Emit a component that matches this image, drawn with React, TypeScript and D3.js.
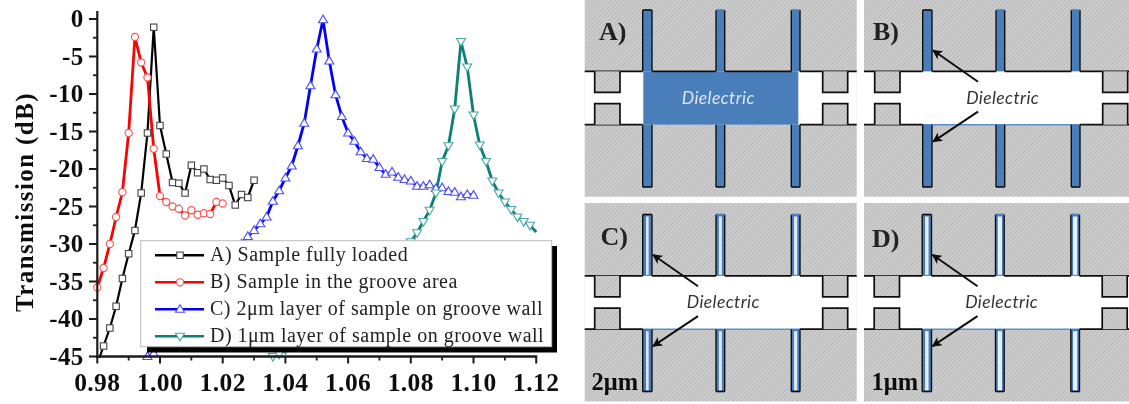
import React from "react";
import * as d3 from "d3";

const W = 1129, H = 404;
const xTicks = [0.98, 1.0, 1.02, 1.04, 1.06, 1.08, 1.1, 1.12];
const xMinor = [0.99, 1.01, 1.03, 1.05, 1.07, 1.09, 1.11];
const yTicks = [0, -5, -10, -15, -20, -25, -30, -35, -40, -45];
const yMinor = [-2.5, -7.5, -12.5, -17.5, -22.5, -27.5, -32.5, -37.5, -42.5];

const step = 0.002;
const aStart = 0.98;
const aValues = [-46, -43.6, -41.2, -38.3, -34.6, -31.3, -28.2, -23.2, -15.2, -1.1, -14.2, -18, -21.8, -21.9, -23.2, -19.5, -20.5, -20, -21.4, -21.5, -21.2, -22.2, -24.8, -23.4, -23.8, -21.5];
const bStart = 0.98;
const bValues = [-35.8, -33.2, -30, -26.4, -23.1, -15.2, -2.4, -5.8, -7.8, -17.3, -23.6, -24.4, -25, -25.3, -26.2, -25.5, -26.1, -25.9, -26, -24.4, -24.6];
const cStart = 0.996;
const cValues = [-45, -44.6, -43.7, -42.8, -41.8, -40.8, -39.8, -38.7, -37.6, -36.5, -35.4, -34.2, -33, -32, -31, -30, -29, -28.2, -27.3, -26.4, -24.3, -22.9, -21.2, -19.6, -16.9, -13.9, -8.9, -4, -0.1, -5.6, -10.1, -13, -15.2, -16.3, -17.7, -18.6, -18.7, -19.8, -20.7, -20.4, -21.1, -21.4, -21.6, -22.3, -22.3, -22.1, -22.6, -22.5, -23, -23.1, -23.7, -23.4, -23.5];
const dStart = 1.036;
const dValues = [-45, -44.7, -44.1, -43.5, -42.9, -42.3, -41.7, -41.1, -40.5, -39.9, -39.2, -38.5, -37.8, -37.1, -36.4, -35.6, -34.8, -34, -33.2, -32.3, -31.4, -30.5, -29.7, -28.5, -27, -25.5, -23.2, -19, -16.9, -12, -3, -6.4, -12.8, -16.8, -19, -21.6, -23.2, -24.4, -25.4, -26.4, -27, -27.5, -28.4];

const legendLabels = ["A) Sample fully loaded", "B) Sample in the groove area", "C) 2\u03bcm layer of sample on groove wall", "D) 1\u03bcm layer of sample on groove wall"];
const colors = ["#000000", "#ff0000", "#0000ff", "#0b7f78"];
const markerColors = ["#444444", "#ff5050", "#4d4dff", "#4fa8a2"];
const lineWidths = [2.2, 2.8, 2.8, 2.8];

const x = d3.scaleLinear().domain([0.98, 1.12]).range([97.3, 536.2]);
const y = d3.scaleLinear().domain([-45, 0]).range([356.5, 19]);
const serif = "'Liberation Serif', serif";

const toPoints = (start: number, vals: number[]) => vals.map((v, i) => [start + i * step, v] as [number, number]);
const series = [toPoints(aStart, aValues), toPoints(bStart, bValues), toPoints(cStart, cValues), toPoints(dStart, dValues)];

function Marker({ kind, cx, cy }: { kind: number; cx: number; cy: number }) {
  const c = markerColors[kind];
  const p = { fill: "#fff", stroke: c, strokeWidth: 1.1 };
  if (kind === 0) return <rect x={cx - 3.2} y={cy - 3.2} width={6.4} height={6.4} {...p} />;
  if (kind === 1) return <circle cx={cx} cy={cy} r={3.6} {...p} />;
  if (kind === 2) return <path d={`M${cx},${cy - 4.6}L${cx + 4.5},${cy + 3}L${cx - 4.5},${cy + 3}Z`} {...p} />;
  return <path d={`M${cx},${cy + 4.6}L${cx + 4.5},${cy - 3}L${cx - 4.5},${cy - 3}Z`} {...p} />;
}

function Chart() {
  const line = d3.line<[number, number]>().x((d) => x(d[0])).y((d) => y(d[1]));
  const axisColor = "#1c1c1c";
  return (
    <g>
      <defs>
        <clipPath id="plot"><rect x={97} y={0} width={445} height={358} /></clipPath>
      </defs>
      <g clipPath="url(#plot)">
        {series.map((s, k) => (
          <path key={k} d={line(s) ?? ""} fill="none" stroke={colors[k]} strokeWidth={lineWidths[k]} />
        ))}
      </g>
      {series.map((s, k) => (
        <g key={k}>
          {s.filter((d) => d[1] > -45.5 && d[0] < 1.119).map((d, i) => (
            <Marker key={i} kind={k} cx={x(d[0])} cy={y(d[1])} />
          ))}
        </g>
      ))}
      <line x1={x(0.98)} x2={x(0.98)} y1={11} y2={358} stroke={axisColor} strokeWidth={2.2} />
      <line x1={96} x2={x(1.12) + 1} y1={y(-45)} y2={y(-45)} stroke={axisColor} strokeWidth={2.4} />
      {yTicks.map((t) => (
        <g key={t}>
          <line x1={89} x2={97} y1={y(t)} y2={y(t)} stroke={axisColor} strokeWidth={2} />
          <text x={83.5} y={y(t) + 8} textAnchor="end" fontFamily={serif} fontWeight="bold" fontSize={25} letterSpacing={0.3} fill="#111">{t}</text>
        </g>
      ))}
      {yMinor.map((t) => <line key={t} x1={93} x2={97} y1={y(t)} y2={y(t)} stroke={axisColor} strokeWidth={1.8} />)}
      {xTicks.map((t) => (
        <g key={t}>
          <line x1={x(t)} x2={x(t)} y1={y(-45)} y2={y(-45) + 7} stroke={axisColor} strokeWidth={2} />
          <text x={x(t)} y={391} textAnchor="middle" fontFamily={serif} fontWeight="bold" fontSize={25.5} letterSpacing={0.4} fill="#111">{t.toFixed(2)}</text>
        </g>
      ))}
      {xMinor.map((t) => <line key={t} x1={x(t)} x2={x(t)} y1={y(-45)} y2={y(-45) + 4} stroke={axisColor} strokeWidth={1.8} />)}
      <text transform="translate(33,202) rotate(-90)" textAnchor="middle" fontFamily={serif} fontWeight="bold" fontSize={25} letterSpacing={1.4} fill="#111">Transmission (dB)</text>

      <rect x={147} y={246} width={410} height={106.5} fill="#000" />
      <rect x={140.7} y={240.7} width={411} height={106} fill="#fff" stroke="#bcbcbc" strokeWidth={1} />
      {legendLabels.map((label, k) => {
        const ly = 255.3 + k * 27;
        return (
          <g key={k}>
            <line x1={155} x2={204} y1={ly} y2={ly} stroke={colors[k]} strokeWidth={2.4} />
            <Marker kind={k} cx={180} cy={ly} />
            <text x={210} y={ly + 6} fontFamily={serif} fontSize={20} letterSpacing={0.5} fill="#222">{label}</text>
          </g>
        );
      })}
    </g>
  );
}

const slotsX = [[642.7, 652], [716, 724.7], [791.3, 800]];
const squaresX = [[594.7, 620], [822.7, 847.7]];
const panels = [
  { name: "A)", dx: 0, dy: 0, left: 584.7, right: 856.7, top: 0, bottom: 196.7, core: "#4a7ebb", coreW: [0, 0, 0], labelX: 599, labelY: 40, filled: true },
  { name: "B)", dx: 280, dy: 0, left: 864, right: 1129, top: 0, bottom: 196.7, core: "#4a7ebb", coreW: [0, 0, 0], labelX: 873, labelY: 40, filled: false },
  { name: "C)", dx: 0, dy: 204.5, left: 584.7, right: 856.7, top: 203, bottom: 401.5, core: "#dce9f7", coreW: [2.6, 3, 3.2], labelX: 600.5, labelY: 245, filled: false },
  { name: "D)", dx: 279.5, dy: 204.5, left: 864, right: 1129, top: 203, bottom: 401.5, core: "#e6f0fa", coreW: [3.4, 4.2, 4.2], labelX: 872, labelY: 246.5, filled: false },
];
const sizeLabels = [{ text: "2\u03bcm", x: 591.5, y: 390 }, { text: "1\u03bcm", x: 871.5, y: 390 }];
const uiFont = "Lato, 'Open Sans', sans-serif";

function Arrow({ x1, y1, x2, y2 }: { x1: number; y1: number; x2: number; y2: number }) {
  return <line x1={x1} y1={y1} x2={x2} y2={y2} stroke="#111" strokeWidth={2} markerEnd="url(#arrowHead)" />;
}

function Panel({ p }: { p: (typeof panels)[number] }) {
  const top = 71.3 + p.dy, bot = 124.7 + p.dy, slotTop = 10 + p.dy, slotBot = 187 + p.dy;
  const blue = "#4a7ebb";
  const stroke = "#111";
  const textX = p.name === "A)" ? 718.3 : p.name === "B)" ? 1002.7 : p.name === "C)" ? 723.3 : 1001.7;
  return (
    <g>
      <rect x={p.left} y={p.top} width={p.right - p.left} height={p.bottom - p.top} fill="url(#hatch)" />
      <rect x={p.left} y={top} width={p.right - p.left} height={bot - top} fill="#fff" />
      {p.filled && <rect x={643.3} y={top} width={155} height={bot - top} fill={blue} />}
      {!p.filled && <line x1={slotsX[0][0] + p.dx} x2={slotsX[2][1] + p.dx} y1={bot} y2={bot} stroke="#5f8fc8" strokeWidth={1.5} />}
      {[0, 1].map((side) => {
        const y0 = side === 0 ? slotTop : bot;
        const y1 = side === 0 ? top : slotBot;
        return slotsX.map((s, i) => (
          <g key={`${side}-${i}`}>
            <rect x={s[0] + p.dx} y={y0} width={s[1] - s[0]} height={y1 - y0} fill={blue} />
            {p.coreW[i] > 0 && <rect x={(s[0] + s[1]) / 2 + p.dx - p.coreW[i] / 2} y={y0 + 2} width={p.coreW[i]} height={y1 - y0 - 3} fill={p.core} />}
            <line x1={s[0] + p.dx} x2={s[0] + p.dx} y1={y0} y2={y1} stroke={stroke} strokeWidth={1.4} />
            <line x1={s[1] + p.dx} x2={s[1] + p.dx} y1={y0} y2={y1} stroke={stroke} strokeWidth={1.4} />
            <line x1={s[0] + p.dx} x2={s[1] + p.dx} y1={side === 0 ? y0 : y1} y2={side === 0 ? y0 : y1} stroke={side === 1 || i === 0 ? stroke : blue} strokeWidth={1.6} />
          </g>
        ));
      })}
      {[
        [p.left, slotsX[0][0] + p.dx], [slotsX[0][1] + p.dx, slotsX[1][0] + p.dx], [slotsX[1][1] + p.dx, slotsX[2][0] + p.dx], [slotsX[2][1] + p.dx, p.right],
      ].map(([a, b], i) => (
        <g key={i}>
          <line x1={a} x2={b} y1={top} y2={top} stroke={stroke} strokeWidth={1.7} />
          {(i === 0 || i === 3) && <line x1={a} x2={b} y1={bot} y2={bot} stroke={stroke} strokeWidth={1.7} />}
        </g>
      ))}
      {squaresX.map((s, i) => (
        <g key={i}>
          <path d={`M${s[0] + p.dx},${top}V${top + 21}H${s[1] + p.dx}V${top}`} fill="url(#hatch)" stroke={stroke} strokeWidth={1.7} />
          <path d={`M${s[0] + p.dx},${bot}V${bot - 21}H${s[1] + p.dx}V${bot}`} fill="url(#hatch)" stroke={stroke} strokeWidth={1.7} />
        </g>
      ))}
      <text x={p.labelX} y={p.labelY} fontFamily={serif} fontWeight="bold" fontSize={26} fill="#222">{p.name}</text>
      <text x={textX} y={top + 32.5} textAnchor="middle" fontFamily={uiFont} fontStyle="italic" fontSize={17.5} letterSpacing={0.4} fill={p.filled ? "#dce6f2" : "#333"}>Dielectric</text>
      {!p.filled && (
        <g>
          <Arrow x1={slotsX[0][1] + p.dx + 46} y1={top + 10.5} x2={slotsX[0][1] + p.dx + 1} y2={top - 21} />
          <Arrow x1={slotsX[0][1] + p.dx + 46} y1={bot - 13} x2={slotsX[0][1] + p.dx + 1} y2={bot + 17} />
        </g>
      )}
    </g>
  );
}

export default function App() {
  return (
    <svg width={W} height={H} viewBox={`0 0 ${W} ${H}`} style={{ position: "absolute", left: 0, top: 0, background: "#fff" }}>
      <defs>
        <pattern id="hatch" width={3} height={3} patternUnits="userSpaceOnUse" patternTransform="rotate(45)">
          <rect width={3} height={3} fill="#cdcdcd" />
          <rect width={1} height={3} fill="#b9b9b9" />
        </pattern>
        <marker id="arrowHead" viewBox="0 0 10 10" refX={9} refY={5} markerWidth={11} markerHeight={10} orient="auto" markerUnits="userSpaceOnUse">
          <path d="M0,0L10,5L0,10L2.5,5Z" fill="#111" />
        </marker>
        <filter id="soft" x="0" y="0" width="100%" height="100%"><feGaussianBlur stdDeviation={0.4} /></filter>
      </defs>
      <g filter="url(#soft)">
        <Chart />
        {panels.map((p) => <Panel key={p.name} p={p} />)}
        {sizeLabels.map((l) => (
          <text key={l.text} x={l.x} y={l.y} fontFamily={serif} fontWeight="bold" fontSize={24.5} fill="#111">{l.text}</text>
        ))}
      </g>
    </svg>
  );
}
